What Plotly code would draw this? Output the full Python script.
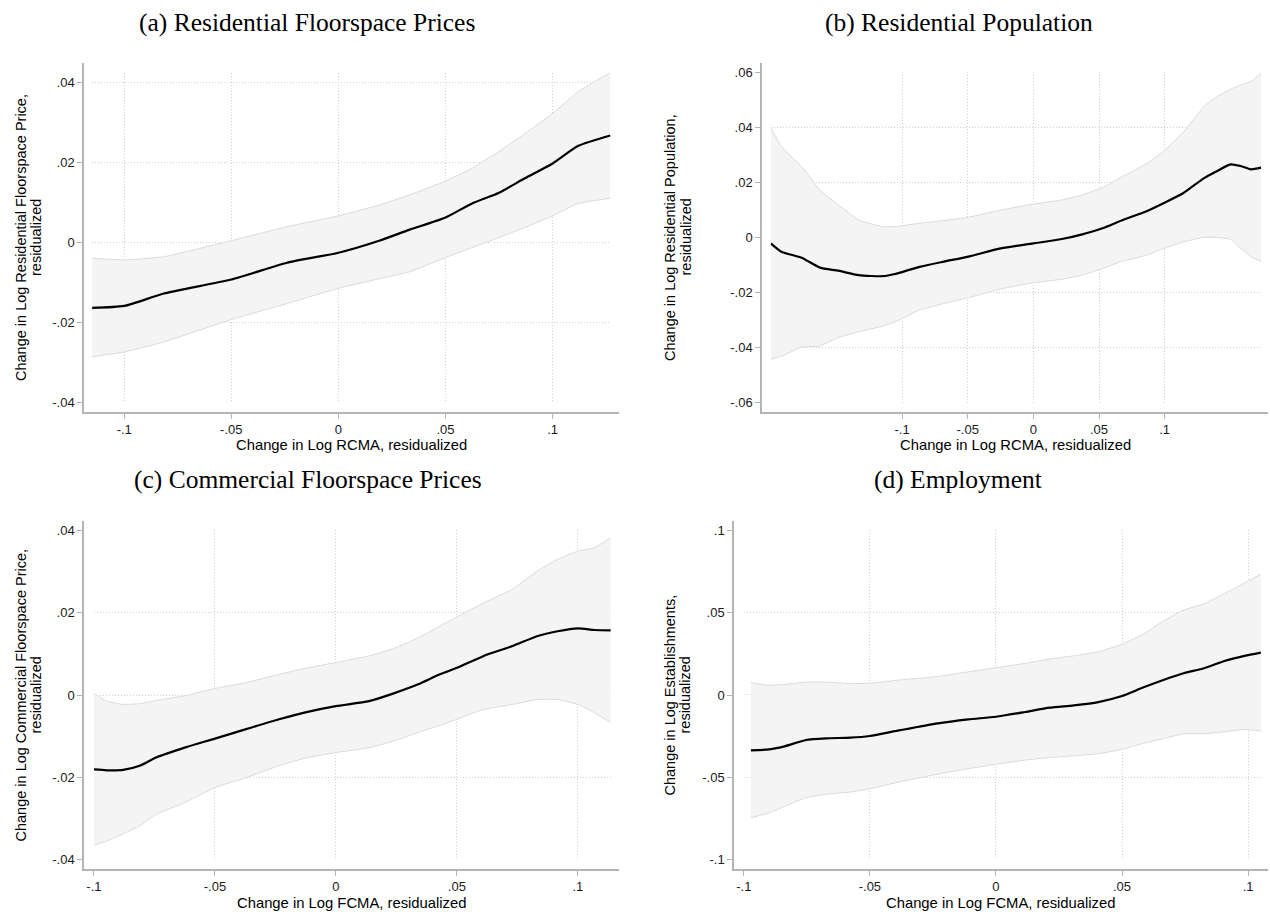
import plotly.graph_objects as go

W, H = 1270, 916

# ---------------- data ----------------
# (a) Residential Floorspace Prices
a_x = [-0.115, -0.100, -0.0815, -0.050, -0.024, 0.000, 0.019, 0.033, 0.050, 0.062, 0.075, 0.087, 0.100, 0.112, 0.127]
a_fit = [-0.0163, -0.0158, -0.0127, -0.0092, -0.0050, -0.0025, 0.0005, 0.0032, 0.0063, 0.0097, 0.0125, 0.0161, 0.0198, 0.0242, 0.0268]
a_hi = [-0.0039, -0.0043, -0.0035, 0.0005, 0.0040, 0.0067, 0.0094, 0.0119, 0.0154, 0.0185, 0.0228, 0.0272, 0.0323, 0.0378, 0.0425]
a_lo = [-0.0285, -0.0273, -0.0248, -0.0192, -0.0152, -0.0114, -0.0090, -0.0073, -0.0037, -0.0013, 0.0013, 0.0038, 0.0067, 0.0098, 0.0111]

# (b) Residential Population
b_x = [-0.200, -0.192, -0.1765, -0.1625, -0.1486, -0.1331, -0.1146, -0.1053, -0.0867, -0.0681, -0.0495, -0.0248, 0.000,
       0.0217, 0.0372, 0.0526, 0.0681, 0.0867, 0.0991, 0.1146, 0.130, 0.1393, 0.1502, 0.1579, 0.1656, 0.1734]
b_fit = [-0.0022, -0.0052, -0.0074, -0.0110, -0.0121, -0.0137, -0.0141, -0.0133, -0.0107, -0.0088, -0.0070, -0.0040, -0.0022,
         -0.0006, 0.0011, 0.0033, 0.0063, 0.0096, 0.0124, 0.0162, 0.0215, 0.0239, 0.0265, 0.0259, 0.0247, 0.0253]
b_hi = [0.0399, 0.0330, 0.0257, 0.0172, 0.0118, 0.0063, 0.0039, 0.0039, 0.0051, 0.0061, 0.0073, 0.0099, 0.0121,
        0.0136, 0.0154, 0.0181, 0.0221, 0.0269, 0.0312, 0.0384, 0.0475, 0.0510, 0.0538, 0.0553, 0.0566, 0.0596]
b_lo = [-0.0442, -0.0432, -0.0398, -0.0394, -0.0364, -0.0343, -0.0322, -0.0307, -0.0264, -0.0240, -0.0219, -0.0187, -0.0165,
        -0.0152, -0.0137, -0.0113, -0.0086, -0.0064, -0.0040, -0.0016, 0.0000, 0.0000, -0.0007, -0.0040, -0.0070, -0.0088]

# (c) Commercial Floorspace Prices
c_x = [-0.100, -0.0947, -0.0879, -0.0811, -0.0743, -0.0625, -0.050, -0.0371, -0.0235, -0.0117, 0.000, 0.0137, 0.0239,
       0.034, 0.0425, 0.050, 0.0611, 0.073, 0.0831, 0.0916, 0.1001, 0.1068, 0.1136]
c_fit = [-0.0181, -0.0183, -0.0182, -0.0172, -0.0152, -0.0128, -0.0106, -0.0083, -0.0059, -0.0041, -0.0027, -0.0015, 0.0004,
         0.0026, 0.0049, 0.0066, 0.0095, 0.0119, 0.0143, 0.0155, 0.0162, 0.0158, 0.0157]
c_hi = [0.0004, -0.0015, -0.0023, -0.0021, -0.0013, -0.0002, 0.0016, 0.0030, 0.0050, 0.0066, 0.0079, 0.0095, 0.0113,
        0.0139, 0.0166, 0.0190, 0.0224, 0.0257, 0.0301, 0.0330, 0.0350, 0.0358, 0.0382]
c_lo = [-0.0365, -0.0355, -0.0338, -0.0318, -0.0290, -0.0262, -0.0225, -0.0201, -0.0172, -0.0152, -0.0140, -0.0128, -0.0112,
        -0.0091, -0.0075, -0.0059, -0.0035, -0.0023, -0.0011, -0.0011, -0.0023, -0.0043, -0.0067]

# (d) Employment
d_x = [-0.0972, -0.0899, -0.0835, -0.0754, -0.0674, -0.0577, -0.0501, -0.0384, -0.0238, -0.011, 0.000, 0.0116, 0.0213,
       0.0309, 0.0406, 0.050, 0.0583, 0.0664, 0.0744, 0.0825, 0.0906, 0.0986, 0.1051]
d_fit = [-0.0336, -0.0330, -0.0310, -0.0273, -0.0263, -0.0259, -0.0249, -0.0215, -0.0174, -0.0148, -0.0132, -0.0103, -0.0077,
         -0.0063, -0.0043, -0.0006, 0.0045, 0.0091, 0.0132, 0.0162, 0.0206, 0.0237, 0.0257]
d_hi = [0.0075, 0.0059, 0.0065, 0.0078, 0.0078, 0.0069, 0.0071, 0.0091, 0.0111, 0.0140, 0.0166, 0.0192, 0.0218,
        0.0238, 0.0262, 0.0308, 0.0368, 0.0449, 0.0516, 0.0553, 0.0615, 0.0680, 0.0733]
d_lo = [-0.0745, -0.0715, -0.0674, -0.0623, -0.0603, -0.0589, -0.0569, -0.0528, -0.0482, -0.0447, -0.0421, -0.0395, -0.0380,
        -0.0369, -0.0356, -0.0330, -0.0294, -0.0265, -0.0235, -0.0235, -0.0224, -0.0209, -0.0219]

# tick values / labels
x_ticks = [-0.1, -0.05, 0, 0.05, 0.1]
x_ticklabels = ["-.1", "-.05", "0", ".05", ".1"]
y_ticks_04 = [-0.04, -0.02, 0, 0.02, 0.04]
y_ticklabels_04 = ["-.04", "-.02", "0", ".02", ".04"]
y_ticks_06 = [-0.06, -0.04, -0.02, 0, 0.02, 0.04, 0.06]
y_ticklabels_06 = ["-.06", "-.04", "-.02", "0", ".02", ".04", ".06"]
y_ticks_10 = [-0.1, -0.05, 0, 0.05, 0.1]
y_ticklabels_10 = ["-.1", "-.05", "0", ".05", ".1"]

titles = ["(a) Residential Floorspace Prices", "(b) Residential Population",
          "(c) Commercial Floorspace Prices", "(d) Employment"]
x_titles = ["Change in Log RCMA, residualized", "Change in Log RCMA, residualized",
            "Change in Log FCMA, residualized", "Change in Log FCMA, residualized"]
y_titles = [("Change in Log Residential Floorspace Price,", "residualized"),
            ("Change in Log Residential Population,", "residualized"),
            ("Change in Log Commercial Floorspace Price,", "residualized"),
            ("Change in Log Establishments,", "residualized")]

# ---------------- layout geometry (pixels) ----------------
panels = [
    dict(x=a_x, fit=a_fit, hi=a_hi, lo=a_lo, yt=y_ticks_04, ytl=y_ticklabels_04,
         box=(84, 619, 63, 412), xr=(-0.11877, 0.13099), yr=(-0.0423, 0.0449),
         xin=(-0.115, 0.127), yin=(-0.040, 0.0425),
         title_xy=(307, 22), xt_y=445, yt_x=(20.5, 35.5)),
    dict(x=b_x, fit=b_fit, hi=b_hi, lo=b_lo, yt=y_ticks_06, ytl=y_ticklabels_06,
         box=(762, 1268, 63, 412), xr=(-0.2067, 0.1787), yr=(-0.0634, 0.0633),
         xin=(-0.200, 0.1734), yin=(-0.060, 0.060),
         title_xy=(959, 22), xt_y=445, yt_x=(669.5, 685)),
    dict(x=c_x, fit=c_fit, hi=c_hi, lo=c_lo, yt=y_ticks_04, ytl=y_ticklabels_04,
         box=(84, 619, 521, 869), xr=(-0.1041, 0.1170), yr=(-0.0423, 0.0423),
         xin=(-0.100, 0.1136), yin=(-0.040, 0.040),
         title_xy=(308, 479), xt_y=903, yt_x=(20.5, 35.5)),
    dict(x=d_x, fit=d_fit, hi=d_hi, lo=d_lo, yt=y_ticks_10, ytl=y_ticklabels_10,
         box=(734, 1268, 521, 869), xr=(-0.1039, 0.1079), yr=(-0.1056, 0.1056),
         xin=(-0.100, 0.1051), yin=(-0.100, 0.100),
         title_xy=(958, 479), xt_y=903, yt_x=(669.5, 684.5)),
]

SANS = "Liberation Sans, Arial, sans-serif"
SERIF = "Liberation Serif, Times New Roman, serif"
AXIS_GRAY = "#b4b4b4"
GRID_GRAY = "#cfcfcf"
BAND_FILL = "#f4f4f4"
BAND_EDGE = "#dadada"

fig = go.Figure()
layout = dict(width=W, height=H, margin=dict(l=0, r=0, t=0, b=0),
              paper_bgcolor="white", plot_bgcolor="rgba(0,0,0,0)",
              showlegend=False, annotations=[])

for i, p in enumerate(panels):
    n_in = i + 1          # inner axes: grid + traces
    n_out = i + 5         # outer axes: axis lines, ticks, labels
    x0, x1, yt, yb = p["box"]
    xr0, xr1 = p["xr"]
    yr0, yr1 = p["yr"]

    def px_x(v):
        return x0 + (v - xr0) / (xr1 - xr0) * (x1 - x0)

    def px_y(v):
        return yb - (v - yr0) / (yr1 - yr0) * (yb - yt)

    ix0, ix1 = px_x(p["xin"][0]), px_x(p["xin"][1])
    iy_top, iy_bot = px_y(p["yin"][1]), px_y(p["yin"][0])

    xin_name = "xaxis" if n_in == 1 else f"xaxis{n_in}"
    yin_name = "yaxis" if n_in == 1 else f"yaxis{n_in}"
    xref_in = "x" if n_in == 1 else f"x{n_in}"
    yref_in = "y" if n_in == 1 else f"y{n_in}"

    layout[xin_name] = dict(domain=[ix0 / W, ix1 / W], range=list(p["xin"]), anchor=yref_in,
                            tickvals=x_ticks, showticklabels=False, ticks="", showline=False,
                            showgrid=True, gridcolor=GRID_GRAY, griddash="1px,2px", gridwidth=1,
                            zeroline=False, fixedrange=True)
    layout[yin_name] = dict(domain=[1 - iy_bot / H, 1 - iy_top / H], range=list(p["yin"]), anchor=xref_in,
                            tickvals=p["yt"], showticklabels=False, ticks="", showline=False,
                            showgrid=True, gridcolor=GRID_GRAY, griddash="1px,2px", gridwidth=1,
                            zeroline=False, fixedrange=True)

    layout[f"xaxis{n_out}"] = dict(domain=[x0 / W, x1 / W], range=[xr0, xr1], anchor=f"y{n_out}",
                                   tickvals=x_ticks, ticktext=x_ticklabels, ticks="outside",
                                   ticklen=5, tickwidth=1, tickcolor=AXIS_GRAY,
                                   showline=True, linecolor=AXIS_GRAY, linewidth=1.5,
                                   showgrid=False, zeroline=False, fixedrange=True, visible=True,
                                   tickfont=dict(family=SANS, size=13, color="#1a1a1a"))
    layout[f"yaxis{n_out}"] = dict(domain=[1 - yb / H, 1 - yt / H], range=[yr0, yr1], anchor=f"x{n_out}",
                                   tickvals=p["yt"], ticktext=p["ytl"], ticks="outside",
                                   ticklen=5, tickwidth=1, tickcolor=AXIS_GRAY,
                                   showline=True, linecolor=AXIS_GRAY, linewidth=1.5,
                                   showgrid=False, zeroline=False, fixedrange=True, visible=True,
                                   tickfont=dict(family=SANS, size=13, color="#1a1a1a"))

    # placeholder (empty) trace so the outer axis pair is registered as a subplot
    fig.add_trace(go.Scatter(x=[None], y=[None], mode="lines", xaxis=f"x{n_out}", yaxis=f"y{n_out}",
                             hoverinfo="skip", line=dict(color="rgba(0,0,0,0)")))

    # confidence band
    fig.add_trace(go.Scatter(x=p["x"], y=p["hi"], mode="lines", xaxis=xref_in, yaxis=yref_in,
                             line=dict(color=BAND_EDGE, width=1, shape="spline", smoothing=0.4),
                             hoverinfo="skip"))
    fig.add_trace(go.Scatter(x=p["x"], y=p["lo"], mode="lines", xaxis=xref_in, yaxis=yref_in,
                             fill="tonexty", fillcolor=BAND_FILL,
                             line=dict(color=BAND_EDGE, width=1, shape="spline", smoothing=0.4),
                             hoverinfo="skip"))
    # fitted line
    fig.add_trace(go.Scatter(x=p["x"], y=p["fit"], mode="lines", xaxis=xref_in, yaxis=yref_in,
                             line=dict(color="black", width=2.2, shape="spline", smoothing=0.6)))

    # texts
    tx, ty = p["title_xy"]
    layout["annotations"].append(dict(text=titles[i], x=tx / W, y=1 - ty / H, xref="paper", yref="paper",
                                      xanchor="center", yanchor="middle", showarrow=False,
                                      font=dict(family=SERIF, size=25.5, color="black")))
    layout["annotations"].append(dict(text=x_titles[i], x=(x0 + x1) / 2 / W, y=1 - p["xt_y"] / H,
                                      xref="paper", yref="paper", xanchor="center", yanchor="middle",
                                      showarrow=False, font=dict(family=SANS, size=14.8, color="black")))
    ycen = (yt + yb) / 2
    for line_txt, lx in zip(y_titles[i], p["yt_x"]):
        layout["annotations"].append(dict(text=line_txt, x=lx / W, y=1 - ycen / H, xref="paper", yref="paper",
                                          xanchor="center", yanchor="middle", textangle=-90,
                                          showarrow=False, font=dict(family=SANS, size=14.5, color="black")))

fig.update_layout(**layout)
fig.write_html("out.html", config={"displayModeBar": False},
               post_script="document.body.style.margin='0';")
